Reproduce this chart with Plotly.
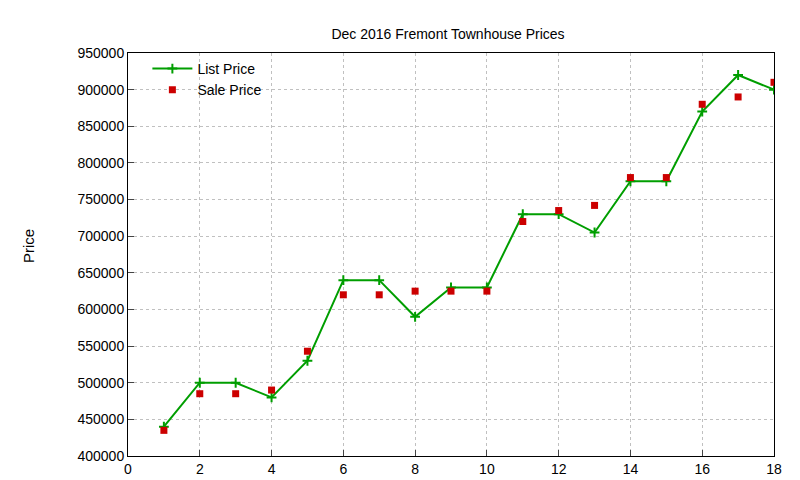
import plotly.graph_objects as go

# Dec 2016 Fremont townhouse listings
house = list(range(1, 19))
list_price = [440000, 500000, 500000, 480000, 530000, 640000, 640000, 590000, 630000,
              630000, 730000, 730000, 705000, 775000, 775000, 870000, 920000, 900000]
sale_price = [435000, 485000, 485000, 490000, 543000, 620000, 620000, 625000, 625000,
              625000, 720000, 735000, 742000, 780000, 780000, 880000, 890000, 910000]

fig = go.Figure()
fig.add_trace(go.Scatter(x=house, y=list_price, name="List Price", mode="lines+markers",
                         line=dict(color="#009e00", width=2),
                         marker=dict(symbol="cross-thin", size=7,
                                     line=dict(color="#009e00", width=2))))
fig.add_trace(go.Scatter(x=house, y=sale_price, name="Sale Price", mode="markers",
                         marker=dict(symbol="square", size=7, color="#cc0000")))

axis_style = dict(showgrid=True, gridcolor="#c0c0c0", griddash="dot", gridwidth=1,
                  showline=True, linecolor="black", mirror=True, ticks="inside",
                  ticklen=6, zeroline=False, automargin=False,
                  tickfont=dict(size=14, color="black"))

fig.update_xaxes(range=[0, 18], dtick=2, **axis_style)
fig.update_yaxes(range=[400000, 950000], dtick=50000, tickformat="d", **axis_style)

fig.add_annotation(text="Price", x=12, y=0.52, xref="paper", yref="paper", xanchor="left",
                   showarrow=False, textangle=-90, font=dict(size=15, color="black"))
fig.update_annotations(selector=dict(text="Price"), xref="paper", x=-0.17)

fig.update_layout(
    width=800, height=480,
    title=dict(text="Dec 2016 Fremont Townhouse Prices", x=0.55, y=0.955,
               font=dict(size=14, color="black")),
    font=dict(family="Liberation Sans, Arial"),
    plot_bgcolor="white", paper_bgcolor="white",
    margin=dict(l=120, r=34, t=45, b=32),
    legend=dict(x=0.03, y=1.0, bgcolor="rgba(0,0,0,0)", font=dict(size=14, color="black"),
                tracegroupgap=0, itemwidth=40),
)

fig.write_html("out.html")
